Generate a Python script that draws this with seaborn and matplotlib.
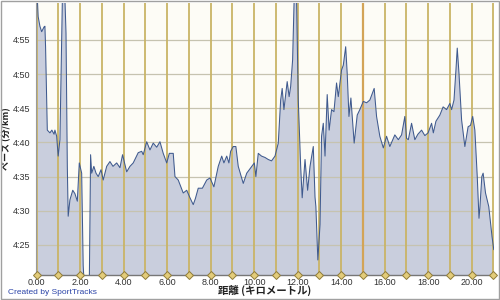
import numpy as np
import pandas as pd
import matplotlib
matplotlib.use("Agg")
import matplotlib.pyplot as plt
import seaborn as sns
from matplotlib.patches import Rectangle

# ---- data: distance (km) and pace (seconds per km) ----
km_a = [0.00, 0.04, 0.07, 0.15, 0.23, 0.34, 0.38, 0.41, 0.49, 0.61, 0.70, 0.80, 0.84,
        0.92, 0.99, 1.07, 1.18, 1.30, 1.35, 1.41, 1.45, 1.53, 1.66, 1.76, 1.87, 1.96,
        2.07, 2.14, 2.19]
pace_a = [301.0, 300.5, 298.4, 297.0, 296.2, 296.9, 297.0, 294.0, 281.8, 281.4, 281.8,
          281.2, 281.8, 280.9, 278.0, 280.4, 300.5, 301.0, 296.0, 276.5, 269.2, 271.6,
          273.0, 272.5, 271.4, 277.0, 275.5, 262.0, 259.0]

km_b = [2.42, 2.48, 2.53, 2.63, 2.73, 2.83, 2.96, 3.06, 3.22, 3.37, 3.51, 3.68, 3.83,
        3.95, 4.14, 4.29, 4.44, 4.56, 4.67, 4.83, 4.90, 5.06, 5.21, 5.36, 5.52, 5.67,
        5.82, 5.98, 6.10, 6.28, 6.36, 6.51, 6.74, 6.90, 7.05, 7.20, 7.30, 7.43, 7.62,
        7.82, 7.97, 8.15, 8.35, 8.51, 8.61, 8.74, 8.84, 8.92, 9.04, 9.16, 9.27, 9.50,
        9.66, 9.89, 10.01, 10.08, 10.19, 10.34, 10.50, 10.65, 10.80, 10.96, 11.11,
        11.22, 11.29, 11.37, 11.52, 11.61, 11.68, 11.77, 11.84, 11.95, 12.03, 12.14,
        12.21, 12.34, 12.46, 12.57, 12.72, 12.80, 12.84, 12.93, 13.03, 13.10, 13.18,
        13.26, 13.36, 13.45, 13.56, 13.67, 13.79, 13.87, 14.02, 14.10, 14.21, 14.28,
        14.36, 14.45, 14.60, 14.74, 14.86, 15.02, 15.17, 15.32, 15.52, 15.63, 15.78,
        15.94, 16.09, 16.24, 16.47, 16.63, 16.78, 16.93, 17.01, 17.09, 17.24, 17.39,
        17.53, 17.70, 17.85, 18.00, 18.16, 18.24, 18.36, 18.54, 18.69, 18.85, 19.00,
        19.08, 19.19, 19.28, 19.34, 19.42, 19.54, 19.69, 19.84, 19.95, 20.05, 20.15,
        20.26, 20.34, 20.38, 20.47, 20.53, 20.64, 20.79, 20.94, 21.02]
pace_b = [259.0, 278.2, 275.5, 276.5, 275.5, 275.0, 276.0, 274.5, 276.5, 277.2, 276.5,
          277.0, 276.3, 278.2, 275.7, 276.5, 277.0, 277.8, 278.5, 278.7, 278.2, 280.1,
          278.9, 279.9, 279.3, 280.1, 278.4, 277.0, 278.4, 278.4, 275.0, 274.5, 272.6,
          273.0, 271.9, 270.9, 271.8, 273.3, 273.3, 274.5, 274.8, 273.5, 276.5, 278.0,
          277.0, 278.0, 277.0, 278.7, 279.4, 279.4, 276.5, 274.0, 275.5, 276.5, 277.0,
          275.0, 278.4, 278.0, 277.8, 277.5, 277.3, 278.0, 279.9, 286.2, 287.9, 284.8,
          288.9, 286.7, 288.2, 292.1, 301.0, 301.0, 286.2, 276.5, 271.9, 277.5, 273.0,
          276.5, 279.4, 272.0, 270.6, 262.8, 268.0, 280.9, 282.8, 278.0, 287.0, 281.8,
          284.8, 284.5, 288.7, 286.7, 290.6, 291.3, 294.0, 290.1, 283.8, 286.5, 279.9,
          284.0, 284.8, 286.0, 285.8, 286.2, 287.9, 283.8, 280.9, 279.2, 280.9, 279.4,
          281.1, 280.4, 281.1, 283.8, 280.6, 280.4, 282.8, 280.4, 281.2, 281.8, 281.0,
          281.4, 282.8, 281.4, 283.1, 284.0, 285.2, 284.8, 285.7, 284.8, 286.2, 290.6,
          293.8, 290.1, 283.3, 279.4, 282.3, 282.5, 283.8, 281.8, 275.0, 268.9, 270.4,
          275.0, 275.5, 272.6, 270.6, 266.2, 264.3]

km_markers = list(range(0, 22))
x_ticks = [0, 2, 4, 6, 8, 10, 12, 14, 16, 18, 20]
x_tick_labels = ["0.00", "2.00", "4.00", "6.00", "8.00", "10.00", "12.00",
                 "14.00", "16.00", "18.00", "20.00"]
y_ticks = [265, 270, 275, 280, 285, 290, 295]
y_tick_labels = ["4:25", "4:30", "4:35", "4:40", "4:45", "4:50", "4:55"]

df = pd.concat([
    pd.DataFrame({"km": km_a, "pace": pace_a, "seg": 0}),
    pd.DataFrame({"km": km_b, "pace": pace_b, "seg": 1}),
], ignore_index=True)

sns.set_theme(style="white")
plt.rcParams["font.family"] = ["Liberation Sans", "DejaVu Sans"]

fig = plt.figure(figsize=(5, 3), dpi=100)
fig.patch.set_facecolor("white")
ax = fig.add_axes([36 / 500, 1 - 275 / 300, 458 / 500, 272 / 300])
ax.set_facecolor("#FDFCF6")

YMIN, YMAX = 260.6, 300.4
ax.set_xlim(-0.03, 21.03)
ax.set_ylim(YMIN, YMAX)

# fill under the curve, one segment at a time (gap at ~2.3 km)
for s, sub in df.groupby("seg"):
    ax.fill_between(sub["km"], sub["pace"], YMIN - 5, color="#C9CEDD", lw=0, zorder=1)

# horizontal grid
for yt in y_ticks:
    ax.axhline(yt, color="#C6C3B0", lw=0.9, zorder=2)

# km marker lines
for k in km_markers:
    c = "#D3A457" if k == 15 else "#C9B467"
    ax.axvline(k, color=c, lw=1.6 if k == 15 else 1.3, zorder=2)

sns.lineplot(data=df, x="km", y="pace", units="seg", estimator=None, sort=False,
             color="#3F5A8E", lw=0.75, ax=ax, legend=False, zorder=3)

ax.plot(km_markers, [YMIN] * len(km_markers), linestyle="none", marker="D",
        markersize=4, markerfacecolor="#E3CC7A", markeredgecolor="#8F7C3A",
        markeredgewidth=0.7, clip_on=False, zorder=5)

ax.set_xticks(x_ticks)
ax.set_xticklabels(x_tick_labels)
ax.set_yticks(y_ticks)
ax.set_yticklabels(y_tick_labels)
ax.tick_params(axis="both", labelsize=6.5, colors="#333333", length=0, pad=2)
ax.tick_params(axis="y", pad=4)

for side in ["top", "right"]:
    ax.spines[side].set_visible(False)
ax.spines["left"].set_color("#9A9A9A")
ax.spines["left"].set_linewidth(0.8)
ax.spines["bottom"].set_color("#777777")
ax.spines["bottom"].set_linewidth(1.0)

ax.set_xlabel("距離 (キロメートル)", family=["Noto Sans CJK JP", "DejaVu Sans"],
              fontsize=7.5, fontweight="bold", color="#222222", labelpad=-1)
ax.set_ylabel("ペース (分/km)", family=["Noto Sans CJK JP", "DejaVu Sans"],
              fontsize=6.5, fontweight="bold", color="#222222", labelpad=1)
ax.yaxis.set_label_coords(-25 / 458, 0.5)

fig.text(8 / 500, 1 - 296 / 300, "Created by SportTracks", fontsize=6,
         color="#2B44A8", ha="left", va="bottom")

fig.patches.append(Rectangle((0.001, 0.002), 0.997, 0.995, transform=fig.transFigure,
                             fill=False, edgecolor="#A0A0A0", lw=1.0))

fig.savefig("out.png", dpi=100)
